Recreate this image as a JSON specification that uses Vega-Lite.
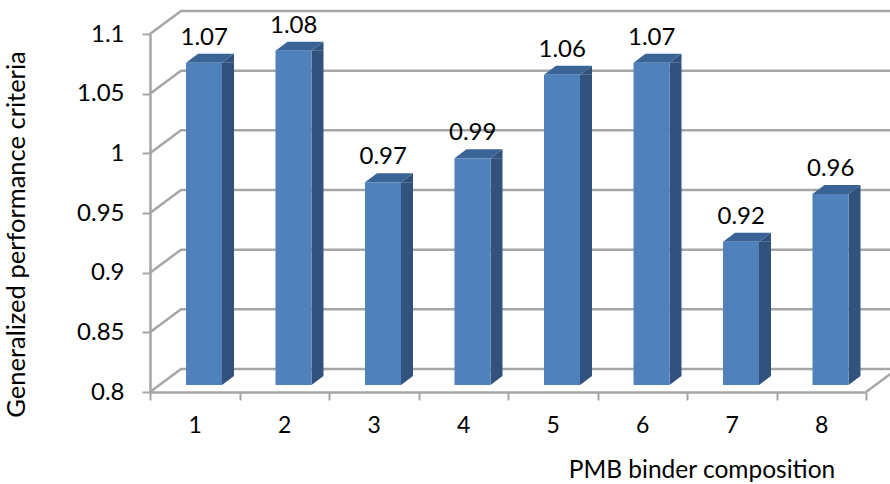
{
"$schema":"https://vega.github.io/schema/vega-lite/v6.json",
"width":716,"height":358,
"autosize":"none",
"padding":{"left":150,"top":34,"right":24,"bottom":92},
"background":"white",
"config":{"view":{"stroke":null},"text":{"font":"Lato"}},
"datasets":{
"bars":[{"composition":1,"value":1.07},{"composition":2,"value":1.08},{"composition":3,"value":0.97},{"composition":4,"value":0.99},{"composition":5,"value":1.06},{"composition":6,"value":1.07},{"composition":7,"value":0.92},{"composition":8,"value":0.96}],
"ticks":[{"tick":0.8},{"tick":0.85},{"tick":0.9},{"tick":0.95},{"tick":1},{"tick":1.05},{"tick":1.1}]
},
"encoding":{
"x":{"field":"composition","type":"ordinal","scale":{"domain":[1,2,3,4,5,6,7,8],"paddingInner":0,"paddingOuter":0},
"axis":{"title":"PMB binder composition","titleFont":"Lato","titleFontWeight":"normal","titleFontSize":24.5,"titleColor":"#000","titleX":551.5,"titleY":78,"titleAlign":"center","titleBaseline":"middle","labelAngle":0,"labelFont":"Lato","labelFontSize":23,"labelColor":"#000","labelPadding":14,"tickBand":"extent","tickSize":8,"tickWidth":2,"tickColor":"#a6a6a6","domainColor":"#a6a6a6","domainWidth":2.5,"grid":false}},
"y":{"field":"value","type":"quantitative","scale":{"domain":[0.8,1.1],"nice":false,"zero":false},
"axis":{"title":"Generalized performance criteria","titleFont":"Lato","titleFontWeight":"normal","titleFontSize":25.5,"titleColor":"#000","titleX":-134,"titleY":200,"titleAlign":"center","titleBaseline":"middle","values":[0.8,0.85,0.9,0.95,1,1.05,1.1],"format":"~g","labelFont":"Lato","labelFontSize":24,"labelColor":"#000","labelPadding":18,"tickSize":8,"tickWidth":2,"tickColor":"#a6a6a6","domainColor":"#a6a6a6","domainWidth":2.5,"grid":false}}
},
"layer":[
{"data":{"name":"ticks"},
 "mark":{"type":"point","shape":"M0 0L31 -23L747 -23","size":4,"filled":false,"stroke":"#a6a6a6","strokeWidth":2.5,"opacity":1,"xOffset":-44.75},
 "encoding":{"x":{"datum":1,"type":"ordinal"},"y":{"field":"tick","type":"quantitative"}}},
{"data":{"values":[{"tick":0.8}]},
 "mark":{"type":"point","shape":"M0 0L31 -23","size":4,"filled":false,"stroke":"#a6a6a6","strokeWidth":2.5,"opacity":1,"xOffset":44.75},
 "encoding":{"x":{"datum":8,"type":"ordinal"},"y":{"field":"tick","type":"quantitative"}}},
{"data":{"name":"bars"},
 "mark":{"type":"bar","width":12,"color":"#32527e","xOffset":33.25,"yOffset":-7,"y2Offset":-16},
 "encoding":{"y2":{"datum":0.8}}},
{"data":{"name":"bars"},
 "mark":{"type":"point","shape":"M36 0L48 -9L36 -9Z","size":4,"filled":true,"fill":"#32527e","strokeWidth":0,"opacity":1,"xOffset":-8.75,"yOffset":-7},
 "encoding":{"y":{"datum":0.8}}},
{"data":{"name":"bars"},
 "mark":{"type":"point","shape":"M36 0L48 -9L48 0Z","size":4,"filled":true,"fill":"#32527e","strokeWidth":0,"opacity":1,"xOffset":-8.75,"yOffset":-7}},
{"data":{"name":"bars"},
 "mark":{"type":"point","shape":"M0 0L12 -9L48 -9L36 0Z","size":4,"filled":true,"fill":"#3b6496","strokeWidth":0,"opacity":1,"xOffset":-8.75,"yOffset":-7}},
{"data":{"name":"bars"},
 "mark":{"type":"bar","width":36,"color":"#4f81bd","xOffset":9.25,"yOffset":-7,"y2Offset":-7},
 "encoding":{"y2":{"datum":0.8}}},
{"data":{"name":"bars"},
 "mark":{"type":"text","font":"Lato","fontSize":24,"color":"#000","xOffset":9.5,"yOffset":-32,"baseline":"middle"},
 "encoding":{"text":{"field":"value","type":"quantitative","format":".2f"}}}
]
}
